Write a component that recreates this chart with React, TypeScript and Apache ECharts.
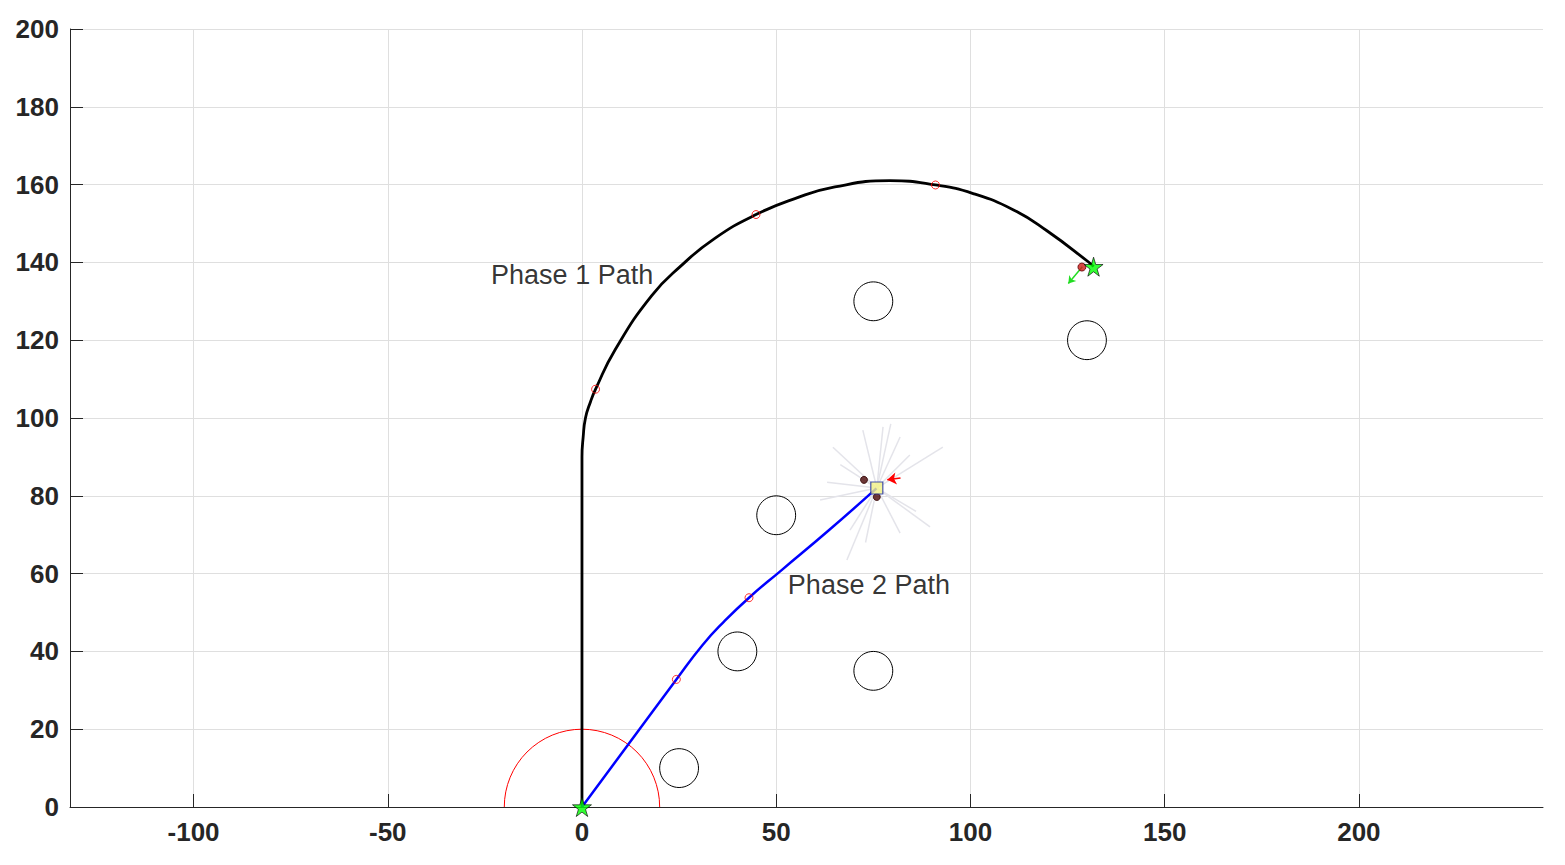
import React, { useEffect, useRef } from "react";
import * as echarts from "echarts";

// ---- data ----
const xTicks = [-100, -50, 0, 50, 100, 150, 200];
const xRange = [-131.8, 247.4];
const yRange = [0, 200];
const yInterval = 20;

const phase1Path = [
  [0, 0], [0, 45], [0, 90], [0.3, 95], [0.9, 100], [2.2, 104.2], [3.5, 107.4], [8.5, 117.5],
  [17.9, 131.4], [25.7, 139.3], [34.2, 146.2], [44.8, 152.3], [54.8, 156.4], [65.1, 159.4],
  [79.3, 161], [91, 159.9], [100.7, 157.7], [111.1, 153.5], [119.6, 148.2], [130.4, 140.1],
  [131.7, 138.9],
];
const phase2Path = [
  [0, 0], [12, 16.2], [24.3, 32.8], [31, 41.6], [36.5, 47.6], [43, 53.8], [51.4, 60.9],
  [63.4, 71], [75.8, 81.9],
];
const obstacles = [[75, 130], [130, 120], [50, 75], [40, 40], [75, 35], [25, 10]];
const obstacleRadius = 5;
const startZone = [0, 0, 20];
const waypoints = [[3.5, 107.4], [44.8, 152.3], [91, 159.9], [24.3, 32.8], [43, 53.8]];
const stars = [[0, 0], [131.7, 138.9]];
const robot = [75.9, 82];
const targetDot = [128.7, 138.8];
const greenArrow = [[128.8, 138.9], [125.2, 134.6]];
const redArrow = [[82, 84.6], [78.6, 84.1]];
const darkDots = [[72.6, 84.1], [75.9, 79.7]];
const rayEnds = [
  [77.5, 97.7], [81.9, 95.1], [92.9, 92.5], [64.6, 92.5], [61.3, 78.9], [63.1, 83.5],
  [69, 71.2], [81.9, 70.4], [89.6, 72], [72.3, 96.9], [68.2, 63.5], [84.4, 90.5],
  [79.5, 98.5], [66.5, 88], [86, 76], [73, 68],
];
const labels = [
  { name: "Phase 1 Path", value: [-23.4, 136.8] },
  { name: "Phase 2 Path", value: [53, 57.1] },
];

const STAR = "path://M50,0 L61,35 L98,35 L68,57 L79,91 L50,70 L21,91 L32,57 L2,35 L39,35 Z";
const FONT = "'Liberation Sans', Arial, Helvetica, sans-serif";
const AXIS_COLOR = "#262626";
const GRID_COLOR = "#dfdfdf";

export default function App() {
  const ref = useRef<HTMLDivElement>(null);
  useEffect(() => {
    if (!ref.current) return;
    const chart = echarts.init(ref.current, null, { renderer: "svg" });
    const option: any = {
      animation: false,
      backgroundColor: "#ffffff",
      grid: { left: 70, right: 22, top: 29, bottom: 58, containLabel: false },
      xAxis: {
        type: "value",
        min: xRange[0],
        max: xRange[1],
        axisLine: { show: true, onZero: false, lineStyle: { color: AXIS_COLOR, width: 1 } },
        axisTick: { show: true, inside: true, length: 13, customValues: xTicks, lineStyle: { color: AXIS_COLOR } },
        axisLabel: {
          customValues: xTicks,
          color: AXIS_COLOR,
          fontWeight: "bold",
          fontSize: 26,
          fontFamily: FONT,
          margin: 12,
        },
        splitLine: { show: true, lineStyle: { color: GRID_COLOR, width: 1 } },
      },
      yAxis: {
        type: "value",
        min: yRange[0],
        max: yRange[1],
        interval: yInterval,
        axisLine: { show: true, onZero: false, lineStyle: { color: AXIS_COLOR, width: 1 } },
        axisTick: { show: true, inside: true, length: 13, lineStyle: { color: AXIS_COLOR } },
        axisLabel: {
          color: AXIS_COLOR,
          fontWeight: "bold",
          fontSize: 26,
          fontFamily: FONT,
          margin: 11,
        },
        splitLine: { show: true, lineStyle: { color: GRID_COLOR, width: 1 } },
      },
      series: [
        {
          type: "lines",
          coordinateSystem: "cartesian2d",
          silent: true,
          lineStyle: { color: "#e4e4ea", width: 1.5, opacity: 1 },
          data: rayEnds.map((e) => ({ coords: [robot, e] })),
          z: 2,
        },
        {
          type: "custom",
          silent: true,
          renderItem: (params: any, api: any) => {
            const c = api.coord([api.value(0), api.value(1)]);
            const r = api.size([api.value(2), 0])[0];
            return {
              type: "circle",
              shape: { cx: c[0], cy: c[1], r },
              style: { fill: "none", stroke: "#000000", lineWidth: 1 },
            };
          },
          data: obstacles.map((o) => [o[0], o[1], obstacleRadius]),
          z: 3,
        },
        {
          type: "custom",
          silent: true,
          renderItem: (params: any, api: any) => {
            const c = api.coord([api.value(0), api.value(1)]);
            const r = api.size([api.value(2), 0])[0];
            return {
              type: "arc",
              shape: { cx: c[0], cy: c[1], r, startAngle: Math.PI, endAngle: 2 * Math.PI, clockwise: true },
              style: { fill: "none", stroke: "#ff0000", lineWidth: 1 },
            };
          },
          data: [startZone],
          z: 3,
        },
        {
          type: "line",
          data: phase1Path,
          smooth: 0.5,
          showSymbol: false,
          lineStyle: { color: "#000000", width: 2.8 },
          z: 4,
        },
        {
          type: "line",
          data: phase2Path,
          smooth: 0.5,
          showSymbol: false,
          lineStyle: { color: "#0000ff", width: 2.5 },
          z: 4,
        },
        {
          type: "scatter",
          data: waypoints,
          symbol: "circle",
          symbolSize: 8,
          itemStyle: { color: "rgba(0,0,0,0)", borderColor: "#ff0000", borderWidth: 1 },
          z: 5,
        },
        {
          type: "lines",
          coordinateSystem: "cartesian2d",
          silent: true,
          symbol: ["none", "arrow"],
          symbolSize: 7,
          lineStyle: { color: "#22dd22", width: 1.5, opacity: 1 },
          data: [{ coords: greenArrow }],
          z: 5,
        },
        {
          type: "lines",
          coordinateSystem: "cartesian2d",
          silent: true,
          symbol: ["none", "arrow"],
          symbolSize: 9,
          lineStyle: { color: "#ff0000", width: 1.5, opacity: 1 },
          data: [{ coords: redArrow }],
          z: 5,
        },
        {
          type: "scatter",
          data: darkDots,
          symbol: "circle",
          symbolSize: 7,
          itemStyle: { color: "#4a0808", borderColor: "#300000", borderWidth: 1 },
          z: 6,
        },
        {
          type: "scatter",
          data: [targetDot],
          symbol: "circle",
          symbolSize: 8,
          itemStyle: { color: "#d01818", borderColor: "#600000", borderWidth: 1 },
          z: 6,
        },
        {
          type: "scatter",
          data: [robot],
          symbol: "rect",
          symbolSize: 12,
          itemStyle: { color: "#f4f488", borderColor: "#1a2aa0", borderWidth: 1.2 },
          z: 7,
        },
        {
          type: "scatter",
          data: stars,
          symbol: STAR,
          symbolSize: 19,
          itemStyle: { color: "#00ff00", borderColor: "#000000", borderWidth: 0.8 },
          z: 8,
        },
        {
          type: "scatter",
          data: labels,
          symbolSize: 0,
          silent: true,
          label: {
            show: true,
            position: "right",
            distance: 0,
            formatter: "{b}",
            color: "#000000",
            fontSize: 27,
            fontFamily: FONT,
          },
          z: 9,
        },
      ],
    };
    chart.setOption(option);
    return () => chart.dispose();
  }, []);
  return (
    <div
      ref={ref}
      style={{ position: "fixed", left: 0, top: 0, width: 1565, height: 865, background: "#fff" }}
    />
  );
}
